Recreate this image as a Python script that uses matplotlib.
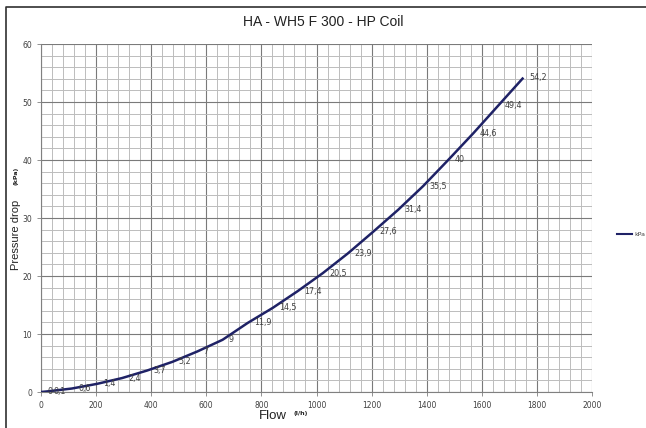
import matplotlib
matplotlib.use("Agg")
import matplotlib.pyplot as plt
from matplotlib.lines import Line2D

flow = [0, 22, 112, 203, 294, 385, 477, 568, 659, 750, 841, 932, 1023,
        1114, 1205, 1296, 1387, 1478, 1569, 1660, 1751]
kpa = [0, 0.1, 0.6, 1.4, 2.4, 3.7, 5.2, 7, 9, 11.9, 14.5, 17.4, 20.5,
       23.9, 27.6, 31.4, 35.5, 40, 44.6, 49.4, 54.2]
labels = ["0", "0,1", "0,6", "1,4", "2,4", "3,7", "5,2", "7", "9", "11,9",
          "14,5", "17,4", "20,5", "23,9", "27,6", "31,4", "35,5", "40",
          "44,6", "49,4", "54,2"]
xticks = [0, 200, 400, 600, 800, 1000, 1200, 1400, 1600, 1800, 2000]
yticks = [0, 10, 20, 30, 40, 50, 60]

W, H = 646, 428
fig = plt.figure(figsize=(W / 100, H / 100), dpi=100)
ax = fig.add_axes([41 / W, 1 - 392 / H, (592 - 41) / W, (392 - 44) / H])

line_color = "#1f2266"
ax.plot(flow, kpa, color=line_color, lw=1.8, solid_capstyle="butt", zorder=3)

for x, y, t in zip(flow, kpa, labels):
    ax.annotate(t, (x, y), xytext=(4.5, 0), textcoords="offset points",
                ha="left", va="center", fontsize=5.8, color="#404040",
                zorder=4)

ax.set_xlim(0, 2000)
ax.set_ylim(0, 60)
ax.set_xticks(xticks)
ax.set_yticks(yticks)
ax.set_xticks(range(0, 2001, 40), minor=True)
ax.set_yticks(range(0, 61, 2), minor=True)
ax.grid(which="minor", color="#bcbcbc", lw=0.7, zorder=0)
ax.grid(which="major", color="#7a7a7a", lw=0.8, zorder=1)
ax.tick_params(which="major", labelsize=5.5, labelcolor="#404040",
               color="#808080", length=3, width=0.6)
ax.tick_params(which="minor", length=0)
for s in ["top", "right"]:
    ax.spines[s].set_visible(False)
for s in ["left", "bottom"]:
    ax.spines[s].set_color("#808080")
    ax.spines[s].set_linewidth(0.8)

fig.text(323 / W, 1 - 22 / H, "HA - WH5 F 300 - HP Coil", ha="center",
         va="center", fontsize=10, color="#222222", family="Liberation Sans")
fig.text(16 / W, 1 - 235 / H, "Pressure drop", rotation=90, ha="center",
         va="center", fontsize=8, color="#222222", family="Liberation Sans")
fig.text(16 / W, 1 - 176 / H, "(kPa)", rotation=90, ha="center",
         va="center", fontsize=4.5, color="#222222", fontweight="bold")
fig.text(273 / W, 1 - 416 / H, "Flow", ha="center", va="center",
         fontsize=9.5, color="#222222", family="Liberation Sans")
fig.text(294 / W, 1 - 413 / H, "(l/h)", ha="left", va="center",
         fontsize=4.5, color="#222222", fontweight="bold")

# legend
fig.add_artist(Line2D([617 / W, 632 / W], [1 - 234 / H, 1 - 234 / H],
                      color=line_color, lw=1.5))
fig.text(634 / W, 1 - 234 / H, "kPa", ha="left", va="center", fontsize=4.5,
         color="#404040")

# outer chart border
fig.add_artist(Line2D([6 / W, 6 / W, 1.0], [0.0, 1 - 7 / H, 1 - 7 / H],
                      color="#303030", lw=1.2))

fig.savefig("out.png", dpi=100)
